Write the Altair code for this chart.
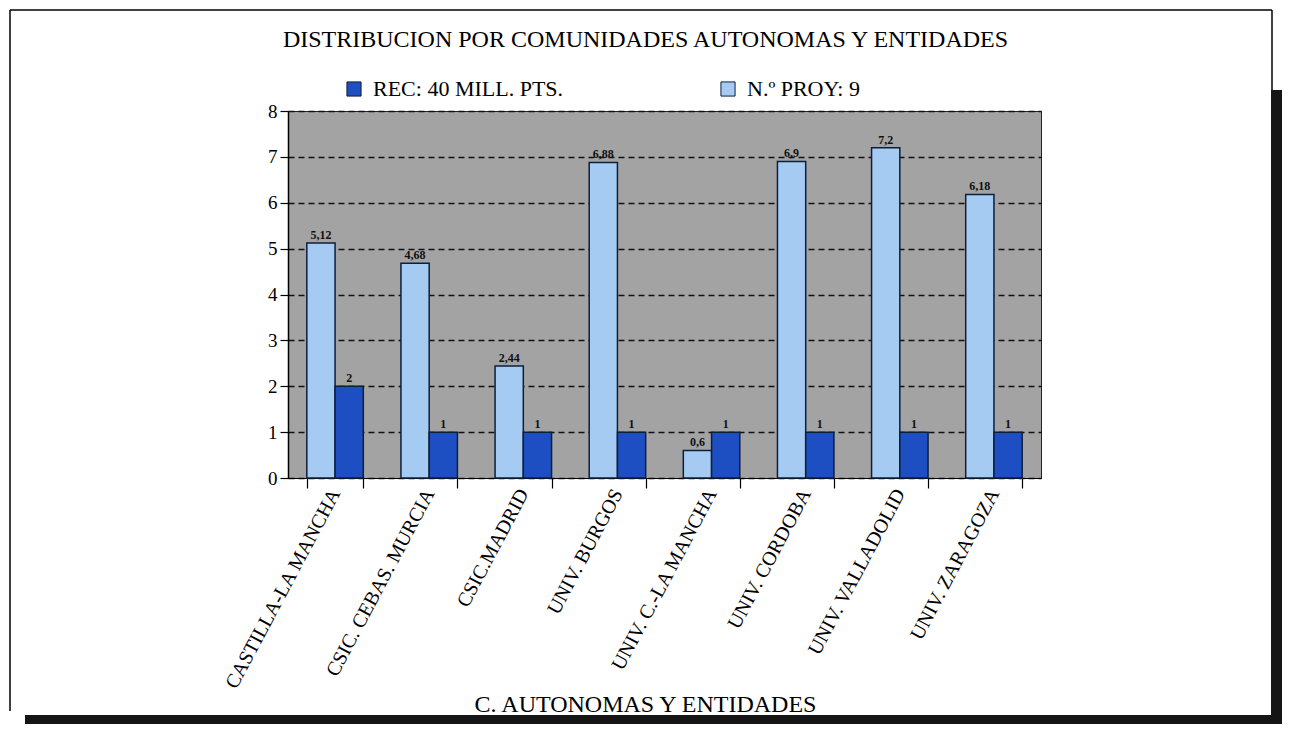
import altair as alt
import pandas as pd

categorias = ["CASTILLA-LA MANCHA", "CSIC. CEBAS. MURCIA", "CSIC.MADRID", "UNIV. BURGOS",
              "UNIV. C.-LA MANCHA", "UNIV. CORDOBA", "UNIV. VALLADOLID", "UNIV. ZARAGOZA"]
serie_claro = [5.12, 4.68, 2.44, 6.88, 0.6, 6.9, 7.2, 6.18]
serie_oscuro = [2, 1, 1, 1, 1, 1, 1, 1]
nombre_oscuro = "REC: 40 MILL. PTS."
nombre_claro = "N.º PROY: 9"
y_ticks = [0, 1, 2, 3, 4, 5, 6, 7, 8]

COL_OSCURO = "#1d4fc2"
COL_CLARO = "#a6cbf3"
SERIF = "Liberation Serif"


def fmt(v):
    return ("%g" % v).replace(".", ",")


df = pd.DataFrame({
    "cat": categorias * 2,
    "serie": [nombre_claro] * len(categorias) + [nombre_oscuro] * len(categorias),
    "valor": serie_claro + serie_oscuro,
    "orden": [0] * len(categorias) + [1] * len(categorias),
})
df["etiqueta"] = [fmt(v) for v in df["valor"]]

x_enc = alt.X(
    "cat:N", sort=categorias,
    scale=alt.Scale(paddingInner=0.4, paddingOuter=0.2),
    title="C. AUTONOMAS Y ENTIDADES",
    axis=alt.Axis(labelAngle=298, labelFont=SERIF, labelFontSize=20, labelColor="black",
                  labelLimit=400, tickBand="extent", tickSize=10, tickColor="black",
                  tickWidth=1.2, domainColor="black", domainWidth=1.2, grid=False,
                  titleFont=SERIF, titleFontSize=24, titleFontWeight="normal",
                  titleColor="black", titleX=357, titleY=214, titleBaseline="top"),
)
y_enc = alt.Y(
    "valor:Q", title=None,
    scale=alt.Scale(domain=[0, 8], nice=False),
    axis=alt.Axis(values=y_ticks, labelFont=SERIF, labelFontSize=19, labelColor="black",
                  tickSize=8, tickColor="black", tickWidth=1.2, domainColor="black",
                  domainWidth=1.5, labelPadding=3, grid=True, gridColor="#111",
                  gridDash=[6, 4], gridWidth=1.4),
)
color_enc = alt.Color(
    "serie:N",
    scale=alt.Scale(domain=[nombre_oscuro, nombre_claro], range=[COL_OSCURO, COL_CLARO]),
    legend=alt.Legend(title=None, orient="none", legendX=55, legendY=-33,
                      direction="horizontal", columns=2, columnPadding=153,
                      symbolType="square", symbolSize=200, symbolStrokeColor="#0d1f3c",
                      symbolStrokeWidth=1, labelFont=SERIF, labelFontSize=22,
                      labelColor="black", labelLimit=400, labelOffset=8),
)

bars = alt.Chart(df).mark_bar(stroke="#0d1f3c", strokeWidth=1.5).encode(
    x=x_enc, xOffset=alt.XOffset("orden:O"), y=y_enc, color=color_enc,
)
labels = alt.Chart(df).mark_text(dy=-8, fontSize=12, font=SERIF, fontWeight="bold",
                                 color="#111").encode(
    x=alt.X("cat:N", sort=categorias), xOffset=alt.XOffset("orden:O"),
    y=alt.Y("valor:Q"), text="etiqueta:N",
)

frame_data = pd.DataFrame({"k": [0]})
left_line = alt.Chart(frame_data).mark_rule(color="black", strokeWidth=1.5).encode(
    x=alt.value(-278), y=alt.value(-101), y2=alt.value(600))
top_line = alt.Chart(frame_data).mark_rule(color="black", strokeWidth=1.5).encode(
    x=alt.value(-278), x2=alt.value(984), y=alt.value(-101))
right_line = alt.Chart(frame_data).mark_rule(color="black", strokeWidth=1.5).encode(
    x=alt.value(984), y=alt.value(-101), y2=alt.value(-21))
right_shadow = alt.Chart(frame_data).mark_rect(color="#151515").encode(
    x=alt.value(983), x2=alt.value(994), y=alt.value(-21), y2=alt.value(613))
bottom_shadow = alt.Chart(frame_data).mark_rect(color="#151515").encode(
    x=alt.value(-263), x2=alt.value(994), y=alt.value(604), y2=alt.value(613))

chart = alt.layer(bars, labels, left_line, top_line, right_line, right_shadow, bottom_shadow).properties(
    width=753, height=367,
    autosize=alt.AutoSizeParams(type="none"),
    padding={"left": 280, "top": 103, "right": 241, "bottom": 246},
    title=alt.TitleParams("DISTRIBUCION POR COMUNIDADES AUTONOMAS Y ENTIDADES", font=SERIF,
                          fontSize=24, fontWeight="normal", color="black", anchor="middle",
                          frame="group", offset=-43, dx=-19),
).configure(
    background="white",
    view=alt.ViewConfig(fill="#a3a3a3", stroke="#222", strokeWidth=1),
    legend=alt.LegendConfig(labelFont=SERIF),
)

chart.save("out.html", embed_options={"renderer": "svg", "actions": False})
